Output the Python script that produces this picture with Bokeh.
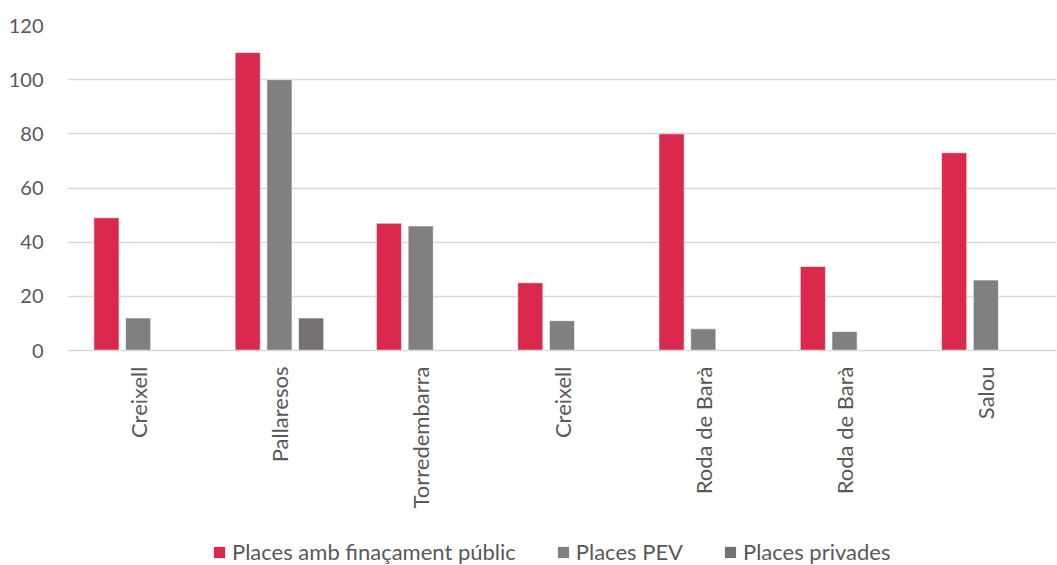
import math
from bokeh.plotting import figure
from bokeh.layouts import column
from bokeh.models import ColumnDataSource, FixedTicker, Range1d, Legend, LegendItem
from bokeh.embed import file_html
from bokeh.resources import INLINE

categories = ["Creixell", "Pallaresos", "Torredembarra", "Creixell", "Roda de Barà", "Roda de Barà", "Salou"]
publ = [49, 110, 47, 25, 80, 31, 73]
pev = [12, 100, 46, 11, 8, 7, 26]
priv = [float("nan"), 12, float("nan"), float("nan"), float("nan"), float("nan"), float("nan")]
series_names = ["Places amb finaçament públic", "Places PEV", "Places privades"]
colors = ["#DA294D", "#808080", "#767171"]
y_ticks = [0, 20, 40, 60, 80, 100, 120]

FONT = "Lato"

p = figure(width=1057, height=533, output_backend="svg", toolbar_location=None,
           x_range=Range1d(-0.5, len(categories) - 0.5), y_range=Range1d(0, 120),
           min_border_left=67, min_border_right=1, min_border_top=25, min_border_bottom=183)
p.outline_line_color = None

xs = list(range(len(categories)))
offset = 0.2245
bw = 0.178
sources = []
for vals, off, col in zip([publ, pev, priv], [-offset, 0, offset], colors):
    src = ColumnDataSource(dict(x=[x + off for x in xs], top=vals))
    sources.append(src)
    p.vbar(x="x", top="top", width=bw, bottom=0, source=src,
           fill_color=col, line_color="white", line_alpha=0.6, line_width=1)

p.xaxis.ticker = FixedTicker(ticks=xs)
p.xaxis.major_label_overrides = {i: c for i, c in enumerate(categories)}
p.xaxis.major_label_orientation = math.pi / 2
p.xaxis.major_tick_line_color = None
p.xaxis.minor_tick_line_color = None
p.xaxis.axis_line_color = "#D9D9D9"
p.xaxis.axis_line_width = 1.5
p.xaxis.major_label_standoff = 10
p.xaxis.major_label_text_font = FONT
p.xaxis.major_label_text_font_size = "22px"
p.xaxis.major_label_text_color = "#595959"

p.yaxis.ticker = FixedTicker(ticks=y_ticks)
p.yaxis.axis_line_color = None
p.yaxis.major_tick_line_color = None
p.yaxis.minor_tick_line_color = None
p.yaxis.major_label_standoff = 18
p.yaxis.major_label_text_font = FONT
p.yaxis.major_label_text_font_size = "20px"
p.yaxis.major_label_text_color = "#595959"

p.xgrid.grid_line_color = None
p.ygrid.grid_line_color = "#D9D9D9"
p.ygrid.grid_line_width = 1.5

# Legend strip below the chart (its renderers share the chart's data and are hidden)
lg = figure(width=1057, height=32, output_backend="svg", toolbar_location=None,
            x_range=Range1d(-0.5, len(categories) - 0.5), y_range=Range1d(1000, 1001),
            min_border_left=0, min_border_right=0, min_border_top=0, min_border_bottom=0)
lg.outline_line_color = None
lg.axis.visible = False
lg.grid.visible = False
items = []
for name, col, src in zip(series_names, colors, sources):
    r = lg.vbar(x="x", top="top", width=bw, bottom=0, source=src,
                fill_color=col, line_color=None)
    r.visible = False
    items.append(LegendItem(label=name, renderers=[r]))
legend = Legend(items=items, orientation="horizontal", location=(145, 0))
legend.border_line_color = None
legend.background_fill_alpha = 0
legend.label_text_font = FONT
legend.label_text_font_size = "22px"
legend.label_text_color = "#595959"
legend.glyph_width = 14
legend.glyph_height = 14
legend.label_standoff = 6
legend.spacing = 40
legend.padding = 0
legend.margin = 0
lg.add_layout(legend, "center")

layout = column(p, lg, spacing=0)
open("out.html", "w").write(file_html(layout, INLINE))
